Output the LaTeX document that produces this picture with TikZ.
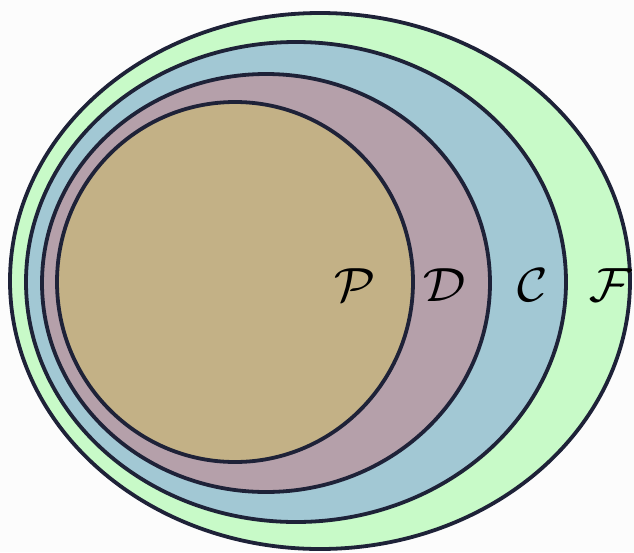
\documentclass[tikz,border=0pt]{standalone}
\begin{document}
\begin{tikzpicture}[x=1pt,y=-1pt,
  setline/.style={draw=linec, line width=3.8pt},
  lab/.style={scale=6.86, inner sep=0pt}]
\definecolor{linec}{HTML}{1E2238}
\definecolor{fcol}{HTML}{C8FAC8}
\definecolor{ccol}{HTML}{A2C8D4}
\definecolor{dcol}{HTML}{B5A0AA}
\definecolor{pcol}{HTML}{C3B186}
\definecolor{bgcol}{HTML}{FCFCFC}
\useasboundingbox (0,0) rectangle (634,552);
\fill[bgcol] (0,0) rectangle (634,552);
\begin{scope}
\clip (0,0) rectangle (634,552);
\path[setline, fill=fcol] (320,281) ellipse [x radius=310, y radius=268];
\path[setline, fill=ccol] (296,282) ellipse [x radius=270, y radius=240];
\path[setline, fill=dcol] (266,283) ellipse [x radius=224, y radius=209];
\path[setline, fill=pcol] (235,282) ellipse [x radius=178, y radius=180];
\end{scope}
\node[lab] (P) at (355,285) {$\scriptstyle\mathcal{P}$};
\node[lab] (D) at (445,285) {$\scriptstyle\mathcal{D}$};
\node[lab] (C) at (533,285) {$\scriptstyle\mathcal{C}$};
\node[lab] (F) at (611,285) {$\scriptstyle\mathcal{F}$};
\end{tikzpicture}
\end{document}
